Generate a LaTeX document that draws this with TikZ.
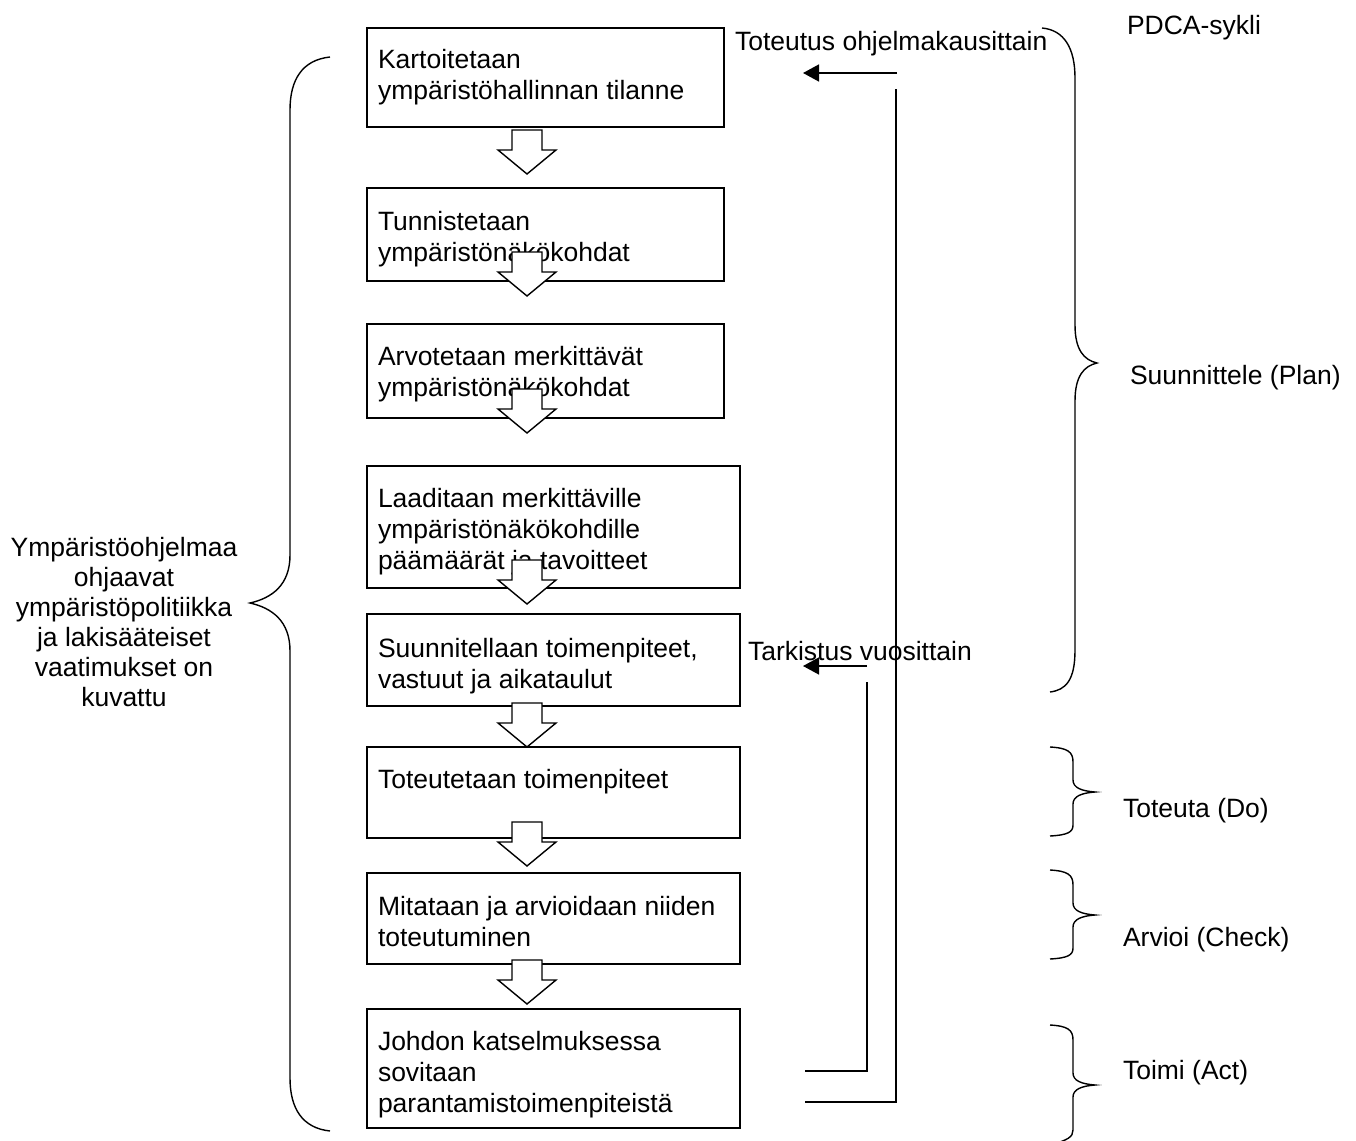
\documentclass[tikz,border=0pt]{standalone}
\usepackage{fontspec}
\setmainfont{Liberation Sans}
\usetikzlibrary{arrows.meta}
\newcommand\mylines[2][l]{\begin{tabular}[t]{@{}#1@{}}#2\end{tabular}}
\begin{document}
\begin{tikzpicture}[x=1pt,y=-1pt,
  every node/.style={font=\fontsize{26.5}{31}\selectfont, inner sep=0pt, outer sep=0pt},
  box/.style={draw, line width=1.6pt, anchor=north west, minimum width=#1},
  box/.default=357pt,
  txt/.style={anchor=base west},
  fb/.style={line width=1.5pt},
  fbarrow/.style={line width=1.5pt, -{Triangle[length=16pt,width=17pt]}},
  brace/.style={line width=1.4pt},
  barrow/.pic={\filldraw[fill=white, line width=1.4pt, line join=miter]
     (-15,0) -- (15,0) -- (15,20) -- (29,20) -- (0,44) -- (-29,20) -- (-15,20) -- cycle;}
]
\useasboundingbox (0,0) rectangle (1356,1140);
\clip (0,0) rectangle (1356,1140);

% boxes
\node[box, minimum height=99pt] (b1) at (367,28) {};
\node[box, minimum height=93pt] (b2) at (367,188) {};
\node[box, minimum height=94pt] (b3) at (367,324) {};
\node[box=373pt, minimum height=122pt] (b4) at (367,466) {};
\node[box=373pt, minimum height=92pt] (b5) at (367,614) {};
\node[box=373pt, minimum height=91pt] (b6) at (367,747) {};
\node[box=373pt, minimum height=91pt] (b7) at (367,873) {};
\node[box=373pt, minimum height=119pt] (b8) at (367,1009) {};

% box texts
\node[txt] (t1) at (378,69) {\mylines{Kartoitetaan\\ympäristöhallinnan tilanne}};
\node[txt] (t2) at (378,230) {\mylines{Tunnistetaan\\ympäristönäkökohdat}};
\node[txt] (t3) at (378,365) {\mylines{Arvotetaan merkittävät\\ympäristönäkökohdat}};
\node[txt] (t4) at (378,507) {\mylines{Laaditaan merkittäville\\ympäristönäkökohdille\\päämäärät ja tavoitteet}};
\node[txt] (t5) at (378,657) {\mylines{Suunnitellaan toimenpiteet,\\vastuut ja aikataulut}};
\node[txt] (t6) at (378,788) {Toteutetaan toimenpiteet};
\node[txt] (t7) at (378,915) {\mylines{Mitataan ja arvioidaan niiden\\toteutuminen}};
\node[txt] (t8) at (378,1050) {\mylines{Johdon katselmuksessa\\sovitaan\\parantamistoimenpiteistä}};

% block arrows
\pic at (527,130) {barrow};
\pic at (527,252) {barrow};
\pic at (527,389) {barrow};
\pic at (527,560) {barrow};
\pic at (527,703) {barrow};
\pic at (527,822) {barrow};
\pic at (527,960) {barrow};

% feedback loops
\coordinate (p1s) at (897,73);
\coordinate (p1e) at (803,73);
\coordinate (v1t) at (896,89);
\coordinate (v1b) at (896,1102);
\coordinate (v1e) at (805,1102);
\draw[fbarrow] (p1s) -- (p1e);
\draw[fb] (v1t) -- (v1b) -- (v1e);

\coordinate (p2s) at (867,666);
\coordinate (p2e) at (803,666);
\coordinate (v2t) at (867,682);
\coordinate (v2b) at (867,1071);
\coordinate (v2e) at (805,1071);
\draw[fbarrow] (p2s) -- (p2e);
\draw[fb] (v2t) -- (v2b) -- (v2e);

\node[txt] (lt1) at (735,51) {Toteutus ohjelmakausittain};
\node[txt] (lt2) at (748,660) {Tarkistus vuosittain};

% left brace
\draw[brace] (330,57) .. controls (302,60) and (290,80) .. (290,110) -- (290,555)
  .. controls (290,585) and (272,598) .. (250,603)
  .. controls (272,608) and (290,621) .. (290,651) -- (290,1078)
  .. controls (290,1108) and (302,1128) .. (330,1131);
\node[anchor=base, font=\fontsize{26.5}{30}\selectfont] (lbl) at (124,556) {\mylines[c]{Ympäristöohjelmaa\\ohjaavat\\ympäristöpolitiikka\\ja lakisääteiset\\vaatimukset on\\kuvattu}};

% right braces
\draw[brace] (1042,28) .. controls (1064,30) and (1075,48) .. (1075,78) -- (1075,325)
  .. controls (1075,350) and (1084,360) .. (1097,363)
  .. controls (1084,366) and (1075,376) .. (1075,401) -- (1075,650)
  .. controls (1075,680) and (1066,690) .. (1050,692);
\draw[brace] (1050,747) .. controls (1068,748) and (1073,752) .. (1073,762) -- (1073,780)
  .. controls (1073,788) and (1082,791) .. (1095,792)
  .. controls (1082,793) and (1073,796) .. (1073,804) -- (1073,825)
  .. controls (1073,832) and (1068,835) .. (1050,836);
\draw[brace] (1050,870) .. controls (1068,871) and (1073,875) .. (1073,885) -- (1073,903)
  .. controls (1073,911) and (1082,914) .. (1095,915)
  .. controls (1082,916) and (1073,919) .. (1073,927) -- (1073,948)
  .. controls (1073,955) and (1068,958) .. (1050,959);
\draw[brace] (1050,1025) .. controls (1068,1026) and (1073,1030) .. (1073,1040) -- (1073,1073)
  .. controls (1073,1081) and (1082,1084) .. (1095,1085)
  .. controls (1082,1086) and (1073,1089) .. (1073,1097) -- (1073,1130)
  .. controls (1073,1137) and (1068,1140) .. (1050,1145);

\node[txt] (pdca) at (1127,35) {PDCA-sykli};
\node[txt] (plan) at (1130,384) {Suunnittele (Plan)};
\node[txt] (do) at (1123,817) {Toteuta (Do)};
\node[txt] (check) at (1123,946) {Arvioi (Check)};
\node[txt] (act) at (1123,1079) {Toimi (Act)};
\end{tikzpicture}
\end{document}
